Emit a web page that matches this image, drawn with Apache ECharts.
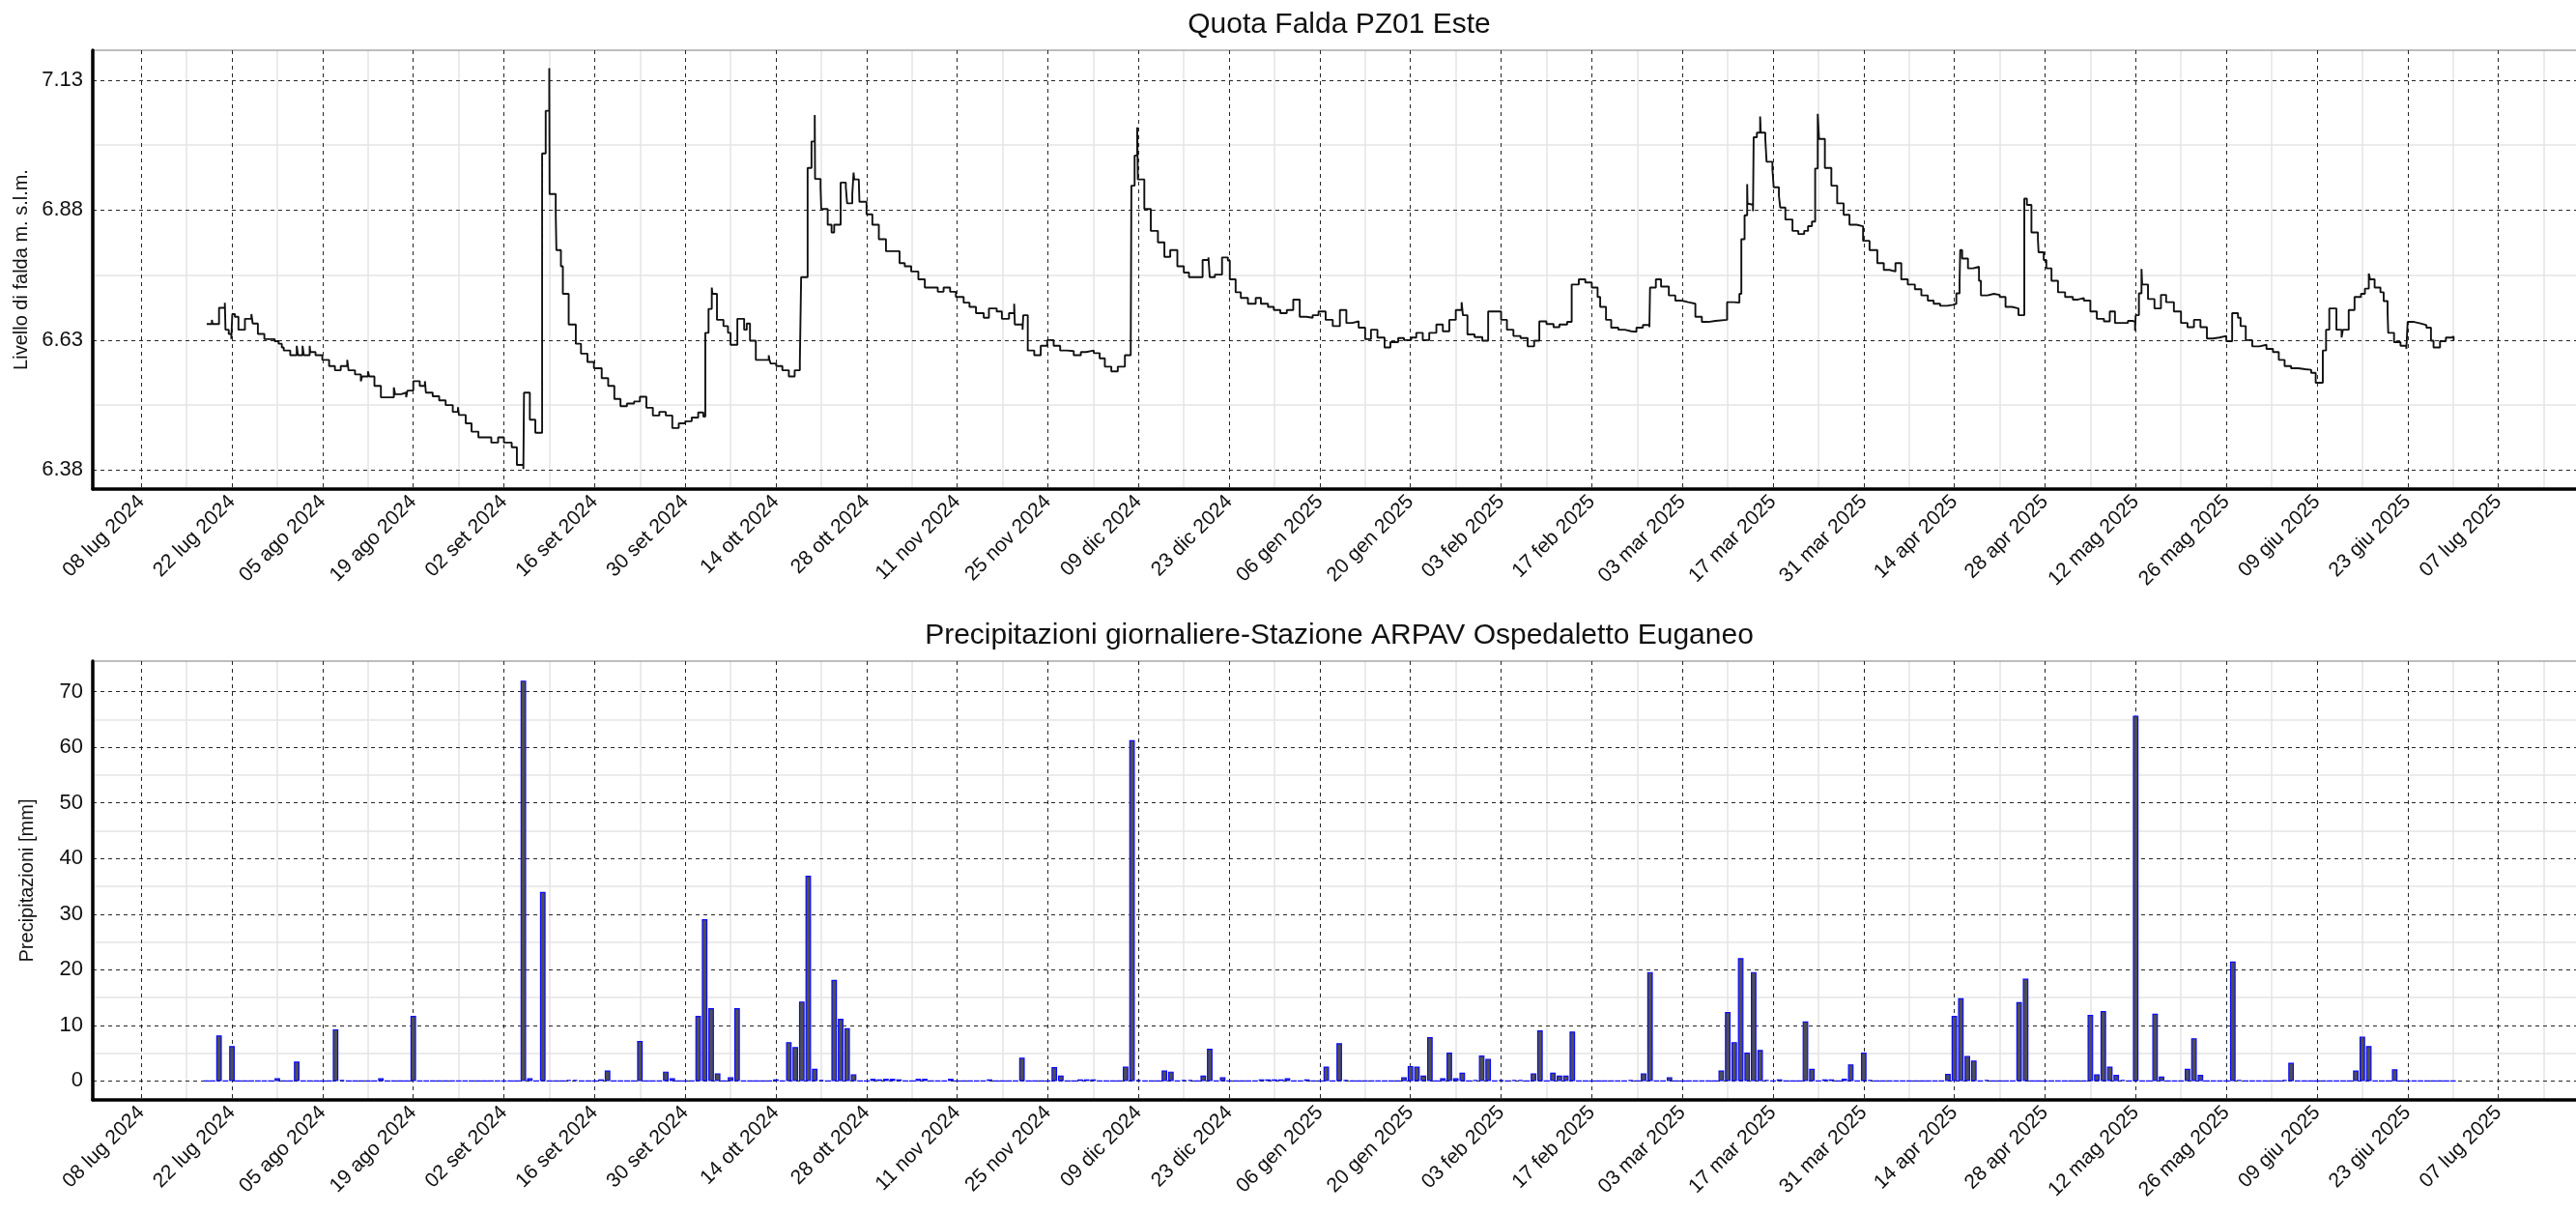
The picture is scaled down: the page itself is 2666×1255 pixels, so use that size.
<!DOCTYPE html>
<html><head><meta charset="utf-8">
<script src="https://cdn.jsdelivr.net/npm/echarts@6/dist/echarts.min.js"></script>
<style>html,body{margin:0;padding:0;background:#fff}#c{width:2666px;height:1255px}</style>
</head><body><div id="c"></div>
<script>
// day offsets are counted from 08 lug 2024 (day 0)
const baseDate = [2024, 6, 8];

const levelDays = [
10.1,10.9,11.0,12.0,12.9,13.0,13.5,13.9,14.05,14.45,15.0,16.0,17.0,17.2,18.0,19.0,20.6,21.2,21.7,22.0,23.0,24.0,24.2,24.9,25.1,26.0,26.1,26.9,27.95,29.0,29.9,30.8,31.8,32.0,33.0,33.9,34.1,35.0,35.2,36.0,37.0,39.0,39.2,40.1,40.9,41.1,42.0,43.0,43.8,43.95,45.0,46.0,47.0,48.1,48.9,49.05,50.1,51.0,52.06,54.05,55.1,56.0,57.2,58.0,59.0,59.1,60.0,60.85,61.9,62.45,63.0,63.05,64.0,64.1,64.8,65.1,66.0,67.1,67.9,68.9,69.9,71.1,72.1,73.05,74.0,75.0,76.1,77.0,78.0,79.0,80.0,81.0,82.0,83.0,84.0,85.0,86.0,86.8,87.1,87.6,88.1,88.2,88.9,89.9,90.6,91.0,92.05,93.1,93.5,94.0,94.9,
96.9,97.0,97.2,98.05,99.0,100.0,100.9,101.7,101.9,102.9,103.5,104.0,104.05,104.9,105.0,106.0,106.6,107.0,108.0,108.8,109.0,109.8,110.0,110.1,110.8,110.9,112.0,112.9,113.9,115.0,117.1,117.9,118.9,120.0,121.0,123.0,123.9,124.9,125.8,127.0,127.9,128.9,130.1,130.9,132.1,132.9,134.0,134.8,134.9,136.1,136.2,136.9,137.9,138.9,139.9,140.9,141.9,142.9,144.0,145.1,145.9,147.1,148.0,148.8,149.8,150.8,151.9,152.8,152.9,153.4,153.8,153.9,154.9,155.9,157.0,158.0,158.9,160.0,161.0,161.8,163.9,164.8,165.0,165.8,166.9,167.8,168.1,169.0,169.8,170.9,172.1,172.9,174.0,174.9,175.9,176.9,177.9,178.9,179.9,180.9,181.8,182.9,184.0,
185.1,186.1,187.0,188.0,189.0,189.9,190.9,192.0,192.9,194.1,195.0,196.1,196.9,197.9,198.9,200.0,201.0,202.0,203.0,203.9,204.1,204.8,205.9,207.1,208.0,210.0,210.9,211.9,213.0,214.1,215.1,215.9,217.0,218.1,219.0,220.2,220.9,222.0,223.0,224.0,224.9,225.3,226.2,227.0,228.1,229.1,230.1,230.9,231.9,232.9,233.0,233.9,234.7,235.9,236.9,237.9,238.9,240.0,241.0,242.0,243.1,244.9,245.9,246.8,247.1,247.6,248.0,248.05,248.2,248.9,249.0,249.5,250.0,250.1,250.8,251.0,251.9,252.1,252.9,253.1,253.9,255.0,255.9,256.8,257.4,258.0,258.5,258.9,259.1,260.0,261.0,261.9,262.9,263.8,264.9,265.9,266.9,268.1,269.1,270.0,270.9,271.8,
272.8,273.9,274.9,275.9,276.8,277.8,278.9,279.8,280.3,280.8,280.9,281.2,282.1,282.9,283.8,284.1,285.1,286.1,287.0,287.9,288.9,289.9,290.8,291.2,291.9,292.9,293.0,293.8,294.2,295.0,296.0,297.1,298.3,299.1,300.0,301.0,302.0,303.1,304.0,304.8,305.9,306.8,307.6,307.9,308.0,308.5,308.9,309.0,309.9,310.9,311.9,312.7,313.9,315.0,316.0,317.0,318.0,319.0,319.9,320.9,322.0,322.9,323.8,324.2,325.0,326.0,327.1,328.2,329.2,330.1,331.0,332.0,333.1,334.2,335.1,335.8,336.9,337.4,337.9,339.0,339.8,340.0,340.9,341.8,342.8,343.4,344.0,344.2,344.9,345.8,346.3,346.9,347.0,347.9,348.9,349.8,350.0,351.0,352.0,352.9,353.6,354.0,355.0,355.9,356.8,357.1
];
const levelValues = [
6.661,6.669,6.661,6.692,6.702,6.650,6.642,6.632,6.680,6.675,6.650,6.671,6.680,6.662,6.642,6.632,6.628,6.623,6.616,6.610,6.601,6.619,6.601,6.619,6.601,6.619,6.607,6.601,6.592,6.580,6.572,6.580,6.592,6.572,6.564,6.551,6.560,6.570,6.560,6.542,6.520,6.539,6.526,6.529,6.520,6.533,6.551,6.542,6.551,6.529,6.522,6.514,6.505,6.492,6.501,6.486,6.470,6.454,6.443,6.433,6.443,6.433,6.424,6.390,6.382,6.529,6.477,6.452,6.989,7.071,7.153,6.911,6.874,6.803,6.772,6.719,6.660,6.623,6.604,6.588,6.576,6.557,6.542,6.517,6.503,6.508,6.512,6.521,6.500,6.485,6.492,6.485,6.461,6.470,6.474,6.481,6.491,6.483,6.644,6.690,6.731,6.719,6.669,6.657,6.644,6.621,6.671,6.650,6.662,6.629,6.592,
6.601,6.592,6.585,6.580,6.572,6.560,6.572,6.588,6.751,6.961,7.012,7.063,6.940,6.924,6.882,6.852,6.837,6.852,6.933,6.924,6.893,6.911,6.952,6.939,6.936,6.896,6.872,6.852,6.824,6.801,6.778,6.772,6.762,6.747,6.731,6.723,6.731,6.723,6.713,6.702,6.694,6.682,6.673,6.691,6.685,6.671,6.682,6.700,6.660,6.650,6.678,6.610,6.601,6.619,6.630,6.619,6.610,6.609,6.601,6.607,6.610,6.605,6.595,6.579,6.570,6.579,6.601,6.610,6.927,6.985,7.039,6.939,6.882,6.840,6.818,6.790,6.803,6.772,6.760,6.751,6.784,6.789,6.751,6.756,6.789,6.783,6.747,6.722,6.711,6.700,6.711,6.700,6.694,6.688,6.682,6.688,6.708,6.675,6.673,6.678,6.685,6.669,6.657,
6.688,6.663,6.666,6.654,6.632,6.650,6.635,6.616,6.626,6.634,6.630,6.635,6.644,6.630,6.644,6.660,6.647,6.669,6.688,6.703,6.678,6.641,6.636,6.629,6.685,6.669,6.650,6.638,6.634,6.618,6.629,6.666,6.661,6.655,6.660,6.665,6.737,6.747,6.741,6.731,6.713,6.694,6.669,6.654,6.650,6.647,6.646,6.654,6.659,6.655,6.731,6.747,6.733,6.716,6.706,6.703,6.700,6.675,6.665,6.667,6.669,6.703,6.702,6.719,6.824,6.870,6.930,6.893,6.890,6.878,7.020,7.029,7.060,7.029,7.017,6.973,6.958,6.924,6.908,6.885,6.862,6.840,6.834,6.840,6.849,6.858,6.960,7.065,7.017,6.961,6.927,6.893,6.871,6.852,6.849,6.821,6.803,6.778,6.765,6.762,6.778,6.747,
6.737,6.728,6.716,6.706,6.700,6.696,6.698,6.700,6.720,6.741,6.803,6.787,6.768,6.771,6.744,6.716,6.719,6.717,6.713,6.694,6.691,6.678,6.902,6.890,6.837,6.824,6.799,6.784,6.768,6.744,6.722,6.713,6.708,6.711,6.706,6.685,6.671,6.666,6.685,6.663,6.663,6.667,6.665,6.648,6.678,6.720,6.767,6.737,6.709,6.691,6.717,6.703,6.685,6.663,6.655,6.669,6.655,6.633,6.635,6.638,6.628,6.682,6.673,6.657,6.630,6.618,6.621,6.613,6.607,6.592,6.580,6.576,6.574,6.573,6.567,6.548,6.610,6.650,6.691,6.650,6.635,6.650,6.688,6.713,6.719,6.729,6.758,6.747,6.731,6.722,6.705,6.685,6.644,6.626,6.619,6.613,6.665,6.662,6.659,6.654,6.629,6.616,6.628,6.635,6.637,6.630
];

// daily rain (mm); days not listed in the recorded period show 0
const rainFirstDay = 10, rainLastDay = 357;
const rainDays = [12,14,21,24,30,31,37,42,59,60,62,66,67,71,72,77,81,82,86,87,88,89,91,92,98,100,101,102,103,104,105,107,108,109,110,113,114,115,116,117,120,121,125,131,136,141,142,145,146,147,152,153,154,158,159,161,162,164,165,167,173,174,175,176,177,180,183,185,186,195,196,197,198,199,201,202,203,204,206,207,208,210,212,213,215,216,218,219,220,221,230,232,233,236,244,245,246,247,248,249,250,251,253,257,258,260,261,263,264,266,267,279,280,281,282,283,285,290,291,301,302,303,304,305,306,308,311,312,316,317,318,323,324,331,332,342,343,344,348];
const rainValues = [8.2,6.3,0.5,3.5,9.3,0.2,0.5,11.7,72.0,0.5,34.0,0.2,0.2,0.3,1.9,7.2,1.7,0.5,11.7,29.1,13.1,1.4,0.7,13.1,0.3,7.0,6.1,14.3,36.9,2.2,0.2,18.2,11.2,9.5,1.2,0.4,0.3,0.4,0.4,0.3,0.4,0.4,0.4,0.3,4.2,2.5,1.0,0.3,0.3,0.3,2.6,61.3,0.2,1.9,1.7,0.2,0.2,1.0,5.8,0.7,0.3,0.3,0.3,0.3,0.5,0.3,2.6,6.8,0.2,0.7,2.7,2.6,1.0,7.9,0.5,5.1,0.5,1.5,0.2,4.6,4.0,0.2,0.2,0.2,1.4,9.1,1.5,1.0,1.0,8.9,0.2,1.4,19.6,0.7,1.9,12.4,7.0,22.1,5.1,19.6,5.6,0.2,0.3,10.7,2.2,0.3,0.3,0.4,3.0,5.1,0.2,1.3,11.7,14.9,4.5,3.7,0.2,14.2,18.4,11.9,1.2,12.6,2.6,1.1,0.2,65.7,12.1,0.8,2.2,7.7,1.1,21.5,0.2,0.2,3.3,1.9,8.0,6.3,2.1];

const xTickDates = ['2024-07-08','2024-07-22','2024-08-05','2024-08-19','2024-09-02','2024-09-16','2024-09-30','2024-10-14','2024-10-28','2024-11-11','2024-11-25','2024-12-09','2024-12-23','2025-01-06','2025-01-20','2025-02-03','2025-02-17','2025-03-03','2025-03-17','2025-03-31','2025-04-14','2025-04-28','2025-05-12','2025-05-26','2025-06-09','2025-06-23','2025-07-07'];
const xMinorDates = ['2024-07-15','2024-07-29','2024-08-12','2024-08-26','2024-09-09','2024-09-23','2024-10-07','2024-10-21','2024-11-04','2024-11-18','2024-12-02','2024-12-16','2024-12-30','2025-01-13','2025-01-27','2025-02-10','2025-02-24','2025-03-10','2025-03-24','2025-04-07','2025-04-21','2025-05-05','2025-05-19','2025-06-02','2025-06-16','2025-06-30','2025-07-14'];
const monthsIt = ['gen','feb','mar','apr','mag','giu','lug','ago','set','ott','nov','dic'];
const levelTicks = [6.38, 6.63, 6.88, 7.13];
const levelMinorTicks = [6.505, 6.755, 7.005];
const rainTicks = [0, 10, 20, 30, 40, 50, 60, 70];
const rainMinorTicks = [5, 15, 25, 35, 45, 55, 65];

const DAY = 86400000;
const base = Date.UTC(baseDate[0], baseDate[1], baseDate[2]);
const t = d => base + d * DAY;
const parseD = s => { const p = s.split('-').map(Number); return Date.UTC(p[0], p[1] - 1, p[2]); };
const fmtDate = v => { const d = new Date(v); return String(d.getUTCDate()).padStart(2, '0') + ' ' + monthsIt[d.getUTCMonth()] + ' ' + d.getUTCFullYear(); };

const levelData = levelDays.map((d, i) => [t(d), levelValues[i]]);
const rainData = [];
for (let d = rainFirstDay; d <= rainLastDay; d++) {
  const k = rainDays.indexOf(d);
  rainData.push([t(d), k >= 0 ? rainValues[k] : 0]);
}
const majorTicks = xTickDates.map(parseD);
const minorTicks = xMinorDates.map(parseD);

const FONT = '"Liberation Sans", Arial, sans-serif';
const TXT = '#111111';
const xMin = t(-7.5), xMax = t(376);

function minorX(grid) {
  return { gridIndex: grid, type: 'value', min: xMin, max: xMax, position: 'top', z: 0,
    axisLine: { show: true, onZero: false, lineStyle: { color: '#a8a8a8', width: 1.5 } },
    axisTick: { show: false, customValues: minorTicks },
    axisLabel: { show: false, customValues: minorTicks },
    splitLine: { show: true, lineStyle: { color: '#e4e4e4', width: 1.5, type: 'solid' } } };
}
function mainX(grid) {
  return { gridIndex: grid, type: 'value', min: xMin, max: xMax, position: 'bottom', z: 1,
    axisLine: { show: true, onZero: false, lineStyle: { color: '#000', width: 3.5 } },
    axisTick: { show: false, customValues: majorTicks },
    axisLabel: { show: true, customValues: majorTicks, rotate: 45, margin: 10, formatter: fmtDate,
      fontSize: 21, color: TXT, fontFamily: FONT },
    splitLine: { show: true, lineStyle: { color: '#262626', width: 1, type: [4, 4] } } };
}
function minorY(grid, min, max, ticks) {
  return { gridIndex: grid, type: 'value', min: min, max: max, position: 'right', z: 0,
    axisLine: { show: false }, axisTick: { show: false, customValues: ticks }, axisLabel: { show: false, customValues: ticks },
    splitLine: { show: true, lineStyle: { color: '#e4e4e4', width: 1.5, type: 'solid' } } };
}
function mainY(grid, min, max, ticks, name, fmt) {
  return { gridIndex: grid, type: 'value', min: min, max: max, position: 'left', z: 1,
    name: name, nameLocation: 'middle', nameRotate: 90, nameGap: 58,
    nameTextStyle: { fontSize: 20, color: TXT, fontFamily: FONT },
    axisLine: { show: true, onZero: false, lineStyle: { color: '#000', width: 3.5 } },
    axisTick: { show: false, customValues: ticks },
    axisLabel: { show: true, customValues: ticks, margin: 10, formatter: fmt, fontSize: 22, color: TXT, fontFamily: FONT },
    splitLine: { show: true, lineStyle: { color: '#262626', width: 1, type: [4, 4] } } };
}

const chart = echarts.init(document.getElementById('c'), null, { renderer: 'canvas' });
chart.setOption({
  animation: false,
  backgroundColor: '#fff',
  textStyle: { fontFamily: FONT },
  title: [
    { text: 'Quota Falda PZ01 Este', left: 1381, top: 6, textAlign: 'center',
      textStyle: { fontSize: 30, fontWeight: 'normal', color: TXT, fontFamily: FONT } },
    { text: 'Precipitazioni giornaliere-Stazione ARPAV Ospedaletto Euganeo', left: 1381, top: 638, textAlign: 'center',
      textStyle: { fontSize: 30, fontWeight: 'normal', color: TXT, fontFamily: FONT } }
  ],
  grid: [
    { left: 96, right: 0, top: 52, height: 454 },
    { left: 96, right: 0, top: 684, height: 454 }
  ],
  xAxis: [minorX(0), mainX(0), minorX(1), mainX(1)],
  yAxis: [
    minorY(0, 6.3436, 7.1874, levelMinorTicks),
    mainY(0, 6.3436, 7.1874, levelTicks, 'Livello di falda m. s.l.m.', v => v.toFixed(2)),
    minorY(1, -3.4, 75.5, rainMinorTicks),
    mainY(1, -3.4, 75.5, rainTicks, 'Precipitazioni [mm]', v => String(Math.round(v)))
  ],
  series: [
    { type: 'line', name: 'Quota falda', xAxisIndex: 1, yAxisIndex: 1, data: levelData, step: 'end',
      showSymbol: false, symbol: 'none', z: 3, lineStyle: { color: '#111111', width: 1.9 } },
    { type: 'bar', name: 'Precipitazioni', xAxisIndex: 3, yAxisIndex: 3, data: rainData, barWidth: 5.8, z: 3,
      itemStyle: { color: '#4f4f4f', borderColor: '#0a0aff', borderWidth: 1.2 } }
  ]
});
</script></body></html>
